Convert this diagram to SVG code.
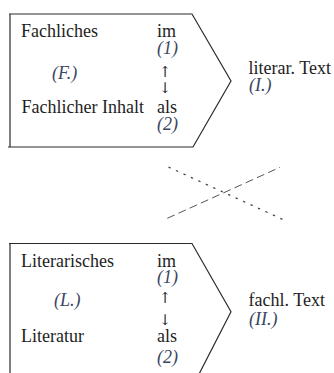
<svg xmlns="http://www.w3.org/2000/svg" width="334" height="373" viewBox="0 0 334 373">
<style>
.shape{fill:none;stroke:#2b2b2b;stroke-width:1.2;stroke-linejoin:miter}
.t{font-family:"Liberation Serif","Times New Roman",serif;font-size:18px;fill:#1e1e1e}
.i{font-family:"Liberation Serif","Times New Roman",serif;font-size:18px;font-style:italic;fill:#3a4660}
.a{font-family:"DejaVu Serif","Liberation Serif",serif;font-size:15px;fill:#2e2a30;text-anchor:middle}
.dot{fill:none;stroke:#444;stroke-width:1.3;stroke-dasharray:1.3 6.9;stroke-linecap:round}
.dash{fill:none;stroke:#555;stroke-width:1;stroke-dasharray:8 4.3}
</style>
<rect width="334" height="373" fill="#fff"/>
<g id="node-fachliches">
<path class="shape" d="M9,14 H192 L231,81 L193,147 H8 M10,14 V147"/>
<text class="t" x="21" y="37">Fachliches</text>
<text class="i" x="52" y="79">(F.)</text>
<text class="t" x="21.5" y="113">Fachlicher Inhalt</text>
<text class="t" x="157" y="37">im</text>
<text class="i" x="157" y="54">(1)</text>
<text class="a" x="165" y="77">↑</text>
<text class="a" x="165" y="93">↓</text>
<text class="t" x="157" y="113">als</text>
<text class="i" x="157" y="130">(2)</text>
</g>
<g id="node-literar-text">
<text class="t" x="248.5" y="74">literar. Text</text>
<text class="i" x="249" y="91">(I.)</text>
</g>
<g id="connectors">
<path class="dot" d="M169,167.3 L284,220"/>
<path class="dash" d="M167.3,218.3 L280,167.3"/>
</g>
<g id="node-literarisches">
<path class="shape" d="M9,243.5 H192 L231,311.7 L196,380 M10,243.5 V380"/>
<text class="t" x="21" y="267">Literarisches</text>
<text class="i" x="54" y="306">(L.)</text>
<text class="t" x="21" y="342">Literatur</text>
<text class="t" x="157" y="267">im</text>
<text class="i" x="157" y="283">(1)</text>
<text class="a" x="165" y="303">↑</text>
<text class="a" x="165" y="325">↓</text>
<text class="t" x="157" y="342">als</text>
<text class="i" x="157" y="363">(2)</text>
</g>
<g id="node-fachl-text">
<text class="t" x="248.5" y="306">fachl. Text</text>
<text class="i" x="249" y="325">(II.)</text>
</g>
</svg>
